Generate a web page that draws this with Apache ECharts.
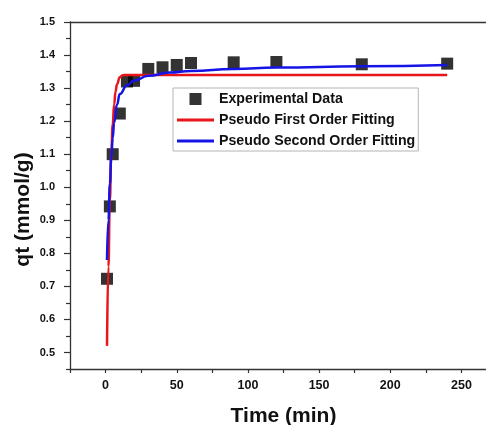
<!DOCTYPE html>
<html>
<head>
<meta charset="utf-8">
<script src="https://cdn.jsdelivr.net/npm/echarts@6/dist/echarts.min.js"></script>
<style>
html,body{margin:0;padding:0;background:#fff;}
#c{width:486px;height:425px;}
</style>
</head>
<body>
<div id="c"></div>
<script>
// Experimental data: [time (min), qt (mmol/g)]
const expData = [[1,0.723],[3,0.942],[5,1.100],[10,1.223],[15,1.320],[20,1.322],[30,1.358],[40,1.363],[50,1.370],[60,1.376],[90,1.378],[120,1.379],[180,1.372],[240,1.374]];
// Pseudo first order fitted curve
const pfoData = [[1,0.52],[2,0.76],[3,0.96],[4,1.10],[5,1.19],[6,1.25],[7,1.29],[8,1.312],[10,1.333],[12,1.339],[15,1.340],[30,1.340],[60,1.340],[120,1.340],[180,1.340],[240,1.340]];
// Pseudo second order fitted curve
const psoData = [[1,0.78],[2,0.90],[3,1.01],[4,1.09],[5,1.15],[6,1.195],[8,1.25],[10,1.282],[15,1.308],[20,1.323],[30,1.337],[45,1.347],[60,1.352],[90,1.358],[120,1.362],[180,1.366],[240,1.370]];
const yMajorTicks = [0.5,0.6,0.7,0.8,0.9,1.0,1.1,1.2,1.3,1.4,1.5];
const yMinorTicks = [0.45,0.55,0.65,0.75,0.85,0.95,1.05,1.15,1.25,1.35,1.45];
const seriesNames = ['Experimental Data','Pseudo First Order Fitting','Pseudo Second Order Fitting'];

const FONT = 'Liberation Sans, Arial, sans-serif';
const chart = echarts.init(document.getElementById('c'), null, {renderer:'canvas'});
chart.setOption({
  animation: false,
  backgroundColor: '#fff',
  grid: {left: 70, top: 22, right: -11, bottom: 56, outerBoundsMode: 'none', containLabel: false},
  legend: {
    data: [
      {name: seriesNames[0], icon: 'path://M0,0 L10,0 L10,10 L0,10 Z'},
      {name: seriesNames[1], icon: 'path://M0,0 L37,0 L37,3 L0,3 Z'},
      {name: seriesNames[2], icon: 'path://M0,0 L37,0 L37,3 L0,3 Z'}
    ],
    orient: 'vertical',
    left: 173, top: 88,
    itemWidth: 37, itemHeight: 12, itemGap: 7,
    padding: [4, 3, 3, 4],
    borderColor: '#b4b4b4', borderWidth: 1,
    textStyle: {fontFamily: FONT, fontWeight: 'bold', fontSize: 14.2, color: '#111'}
  },
  xAxis: [{
    type: 'value', min: -25, max: 275, interval: 25,
    name: 'Time (min)', nameLocation: 'middle', nameGap: 37, nameMoveOverlap: false,
    nameTextStyle: {fontFamily: FONT, fontWeight: 'bold', fontSize: 21, color: '#111'},
    splitLine: {show: false},
    axisLine: {onZero: false, lineStyle: {color: '#333', width: 1.3}},
    axisTick: {length: 4, lineStyle: {color: '#333', width: 1.2}},
    axisLabel: {
      margin: 10, fontFamily: FONT, fontWeight: 'bold', fontSize: 12.5, color: '#111',
      formatter: v => (Math.round(v) % 50 === 0 && v >= 0 && v <= 250) ? String(Math.round(v)) : ''
    }
  }, {
    type: 'value', position: 'top', min: -25, max: 275,
    splitLine: {show: false}, axisTick: {show: false}, axisLabel: {show: false},
    axisLine: {show: true, onZero: false, lineStyle: {color: '#333', width: 1.3}}
  }],
  yAxis: [{
    type: 'value', min: 0.45, max: 1.5,
    name: 'qt (mmol/g)', nameLocation: 'middle', nameGap: 36, nameRotate: 90, nameMoveOverlap: false,
    nameTextStyle: {fontFamily: FONT, fontWeight: 'bold', fontSize: 21, color: '#111', padding: [0, 28, 0, 0]},
    splitLine: {show: false},
    axisLine: {show: true, onZero: false, lineStyle: {color: '#333', width: 1.3}},
    axisTick: {show: true, length: 6, customValues: yMajorTicks, lineStyle: {color: '#333', width: 1.2}},
    axisLabel: {
      margin: 15, fontFamily: FONT, fontWeight: 'bold', fontSize: 11, color: '#111',
      customValues: yMajorTicks, formatter: v => v.toFixed(1)
    }
  }, {
    type: 'value', min: 0.45, max: 1.5, position: 'left',
    splitLine: {show: false},
    axisLine: {show: false, onZero: false},
    axisTick: {show: true, length: 4, customValues: yMinorTicks, lineStyle: {color: '#333', width: 1.2}},
    axisLabel: {show: false}
  }],
  series: [{
    name: seriesNames[0], type: 'scatter', data: expData,
    symbol: 'rect', symbolSize: 12, itemStyle: {color: '#000'}, z: 2
  }, {
    name: seriesNames[1], type: 'line', data: pfoData,
    symbol: 'none', showSymbol: false, smooth: true, smoothMonotone: 'x',
    lineStyle: {color: '#e8161b', width: 2.5}, itemStyle: {color: '#e8161b'}, z: 3
  }, {
    name: seriesNames[2], type: 'line', data: psoData,
    symbol: 'none', showSymbol: false, smooth: true, smoothMonotone: 'x',
    lineStyle: {color: '#1414e6', width: 2.5}, itemStyle: {color: '#1414e6'}, z: 4
  }]
});
</script>
</body>
</html>
